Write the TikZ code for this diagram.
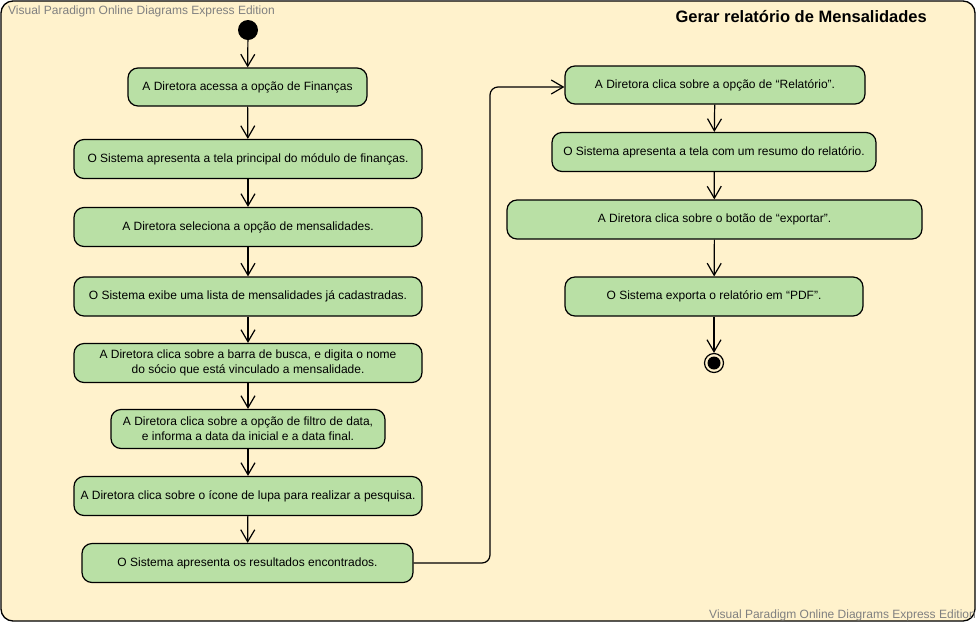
\documentclass[tikz,border=0pt]{standalone}
\usepackage{fontspec}
\setmainfont{Liberation Sans}
\usetikzlibrary{arrows.meta}
\definecolor{framefill}{RGB}{255,242,204}
\definecolor{actfill}{RGB}{185,224,165}
\definecolor{wmgray}{RGB}{128,128,128}
\tikzset{
  act/.style={draw=black, line width=1.2pt, fill=actfill, rounded corners=10pt,
    minimum height=39pt, align=center, font=\fontsize{12pt}{15pt}\selectfont, inner sep=0pt},
  flow/.style={draw=black, line width=1.2pt, -{Straight Barb[length=12pt,width=14pt]}},
  wm/.style={text=wmgray, font=\fontsize{12pt}{14pt}\selectfont, inner sep=0pt}
}
\begin{document}
\begin{tikzpicture}[x=1pt,y=-1pt]
\useasboundingbox (0,0) rectangle (977,625);
\draw[line width=1.3pt, fill=framefill, rounded corners=12pt] (1,1) rectangle (975,621);
\node[wm, anchor=west] (wm1) at (8,11) {Visual Paradigm Online Diagrams Express Edition};
\node[anchor=east, font=\bfseries\fontsize{16.5pt}{19pt}\selectfont, inner sep=0pt] (title) at (927,17) {Gerar relatório de Mensalidades};

\node[circle, fill=black, minimum size=20pt, inner sep=0pt] (start) at (248,30) {};
\node[act, minimum width=239pt, minimum height=38pt] (a1) at (247.5,87) {A Diretora acessa a opção de Finanças};
\node[act, minimum width=348pt] (a2) at (248,159) {O Sistema apresenta a tela principal do módulo de finanças.};
\node[act, minimum width=348pt] (a3) at (248,227) {A Diretora seleciona a opção de mensalidades.};
\node[act, minimum width=348pt] (a4) at (248,296.5) {O Sistema exibe uma lista de mensalidades já cadastradas.};
\node[act, minimum width=348pt] (a5) at (248,363) {A Diretora clica sobre a barra de busca, e digita o nome\\do sócio que está vinculado a mensalidade.};
\node[act, minimum width=274pt] (a6) at (248,429) {A Diretora clica sobre a opção de filtro de data,\\e informa a data da inicial e a data final.};
\node[act, minimum width=348pt] (a7) at (248,496) {A Diretora clica sobre o ícone de lupa para realizar a pesquisa.};
\node[act, minimum width=331pt] (a8) at (247.5,563) {O Sistema apresenta os resultados encontrados.};

\node[act, minimum width=300pt, minimum height=38pt] (b1) at (715,85) {A Diretora clica sobre a opção de “Relatório”.};
\node[act, minimum width=324pt] (b2) at (714,152) {O Sistema apresenta a tela com um resumo do relatório.};
\node[act, minimum width=415pt] (b3) at (714.5,219.5) {A Diretora clica sobre o botão de “exportar”.};
\node[act, minimum width=298pt] (b4) at (714,296.5) {O Sistema exporta o relatório em “PDF”.};
\node[circle, draw=black, line width=1.2pt, fill=framefill, minimum size=19pt, inner sep=0pt] (end) at (714,363) {};
\node[circle, fill=black, minimum size=13pt, inner sep=0pt] (endin) at (end.center) {};

\draw[flow] (start) -- (a1);
\draw[flow] (a1) -- (a2);
\draw[flow] (a2) -- (a3);
\draw[flow] (a3) -- (a4);
\draw[flow] (a4) -- (a5);
\draw[flow] (a5) -- (a6);
\draw[flow] (a6) -- (a7);
\draw[flow] (a7) -- (a8);
\coordinate (c1) at (490,563);
\coordinate (c2) at (490,87);
\draw[flow, rounded corners=8pt] (a8.east) -- (c1) -- (c2) -- (b1.west |- c2);
\draw[flow] (b1) -- (b2);
\draw[flow] (b2) -- (b3);
\draw[flow] (b3) -- (b4);
\draw[flow] (b4) -- (end);

\node[wm, anchor=east] (wm2) at (976,615) {Visual Paradigm Online Diagrams Express Edition};
\end{tikzpicture}
\end{document}
